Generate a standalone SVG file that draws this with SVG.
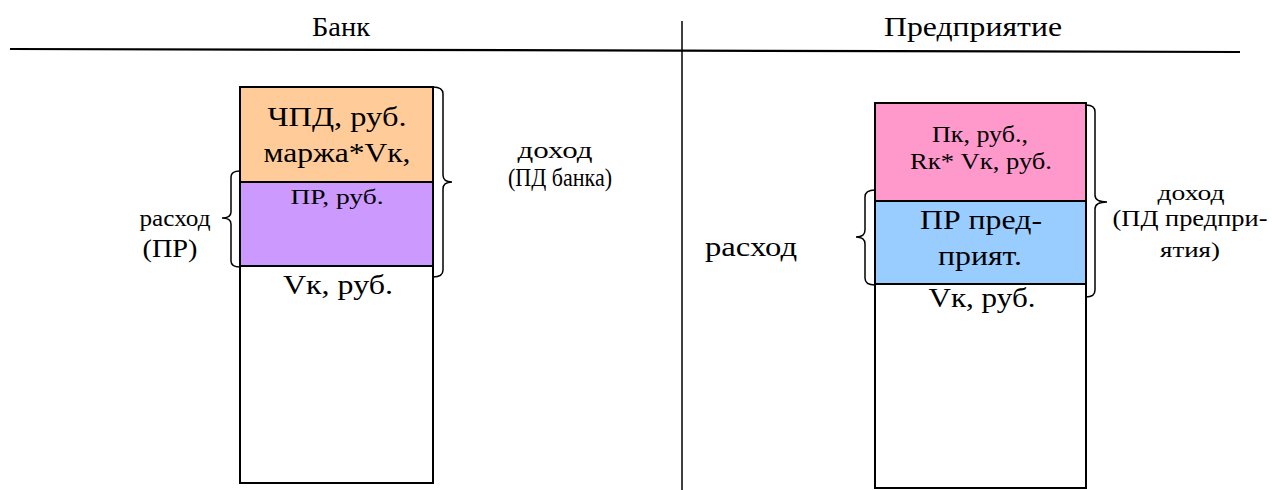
<svg xmlns="http://www.w3.org/2000/svg" width="1272" height="490" viewBox="0 0 1272 490">
<style>
text{font-family:"Liberation Serif","Times New Roman",serif;fill:#000}
.box{stroke:#000;stroke-width:2}
.brace{fill:none;stroke:#000;stroke-width:1.5}
.rule{stroke:#000;fill:none}
</style>
<rect width="1272" height="490" fill="#fff"/>
<g id="dividers">
<line class="rule" x1="10" y1="49" x2="1240" y2="52" stroke-width="2.2"/>
<line class="rule" x1="682" y1="21" x2="682" y2="490" stroke-width="1.5"/>
</g>
<g id="headers">
<text x="341" y="36" font-size="28" text-anchor="middle" textLength="58" lengthAdjust="spacingAndGlyphs">Банк</text>
<text x="973" y="36" font-size="28" text-anchor="middle" textLength="178" lengthAdjust="spacingAndGlyphs">Предприятие</text>
</g>
<g id="bank">
<rect class="box" x="240" y="87" width="193" height="396" fill="#fff"/>
<rect class="box" x="240" y="87" width="193" height="95" fill="#FFCC99"/>
<rect class="box" x="240" y="182" width="193" height="84" fill="#CC99FF"/>
<text x="337" y="126" font-size="27" text-anchor="middle" textLength="139" lengthAdjust="spacingAndGlyphs">ЧПД, руб.</text>
<text x="337" y="162" font-size="27" text-anchor="middle" textLength="147" lengthAdjust="spacingAndGlyphs">маржа*Vк,</text>
<text x="337" y="204" font-size="20" text-anchor="middle" textLength="93" lengthAdjust="spacingAndGlyphs">ПР, руб.</text>
<text x="338" y="294" font-size="28" text-anchor="middle" textLength="110" lengthAdjust="spacingAndGlyphs">Vк, руб.</text>
</g>
<g id="bank-expense">
<path class="brace" d="M240,171 Q231,171 231,177 L231,212 Q231,218 222,218 Q231,218 231,224 L231,261 Q231,267 240,267"/>
<text x="175" y="226" font-size="24" text-anchor="middle" textLength="71" lengthAdjust="spacingAndGlyphs">расход</text>
<text x="170" y="257" font-size="25" text-anchor="middle" textLength="55" lengthAdjust="spacingAndGlyphs">(ПР)</text>
</g>
<g id="bank-income">
<path class="brace" d="M433,87 Q443,87 443,94 L443,175 Q443,182 452,182 Q443,182 443,189 L443,270 Q443,277 433,277"/>
<text x="555" y="158" font-size="24" text-anchor="middle" textLength="75" lengthAdjust="spacingAndGlyphs">доход</text>
<text x="560" y="186" font-size="26" text-anchor="middle" textLength="104" lengthAdjust="spacingAndGlyphs">(ПД банка)</text>
</g>
<g id="enterprise">
<rect class="box" x="875" y="103" width="211" height="385" fill="#fff"/>
<rect class="box" x="875" y="103" width="211" height="98" fill="#FF99CC"/>
<rect class="box" x="875" y="201" width="211" height="83" fill="#99CCFF"/>
<text x="980" y="142" font-size="24" text-anchor="middle" textLength="96" lengthAdjust="spacingAndGlyphs">Пк, руб.,</text>
<text x="981" y="169" font-size="24" text-anchor="middle" textLength="142" lengthAdjust="spacingAndGlyphs">Rк* Vк, руб.</text>
<text x="981" y="229" font-size="27" text-anchor="middle" textLength="122" lengthAdjust="spacingAndGlyphs">ПР пред-</text>
<text x="980" y="265" font-size="27" text-anchor="middle" textLength="84" lengthAdjust="spacingAndGlyphs">прият.</text>
<text x="982" y="307" font-size="28" text-anchor="middle" textLength="107" lengthAdjust="spacingAndGlyphs">Vк, руб.</text>
</g>
<g id="enterprise-expense">
<path class="brace" d="M875,190 Q865,190 865,197 L865,230 Q865,237 856,237 Q865,237 865,244 L865,278 Q865,285 875,285"/>
<text x="751" y="256" font-size="27" text-anchor="middle" textLength="92" lengthAdjust="spacingAndGlyphs">расход</text>
</g>
<g id="enterprise-income">
<path class="brace" d="M1086,105 Q1095,105 1095,112 L1095,195 Q1095,202 1107,202 Q1095,202 1095,209 L1095,290 Q1095,297 1086,297"/>
<text x="1191" y="200" font-size="22" text-anchor="middle" textLength="67" lengthAdjust="spacingAndGlyphs">доход</text>
<text x="1190" y="226" font-size="23" text-anchor="middle" textLength="155" lengthAdjust="spacingAndGlyphs">(ПД предпри-</text>
<text x="1190" y="257" font-size="22" text-anchor="middle" textLength="60" lengthAdjust="spacingAndGlyphs">ятия)</text>
</g>
</svg>
